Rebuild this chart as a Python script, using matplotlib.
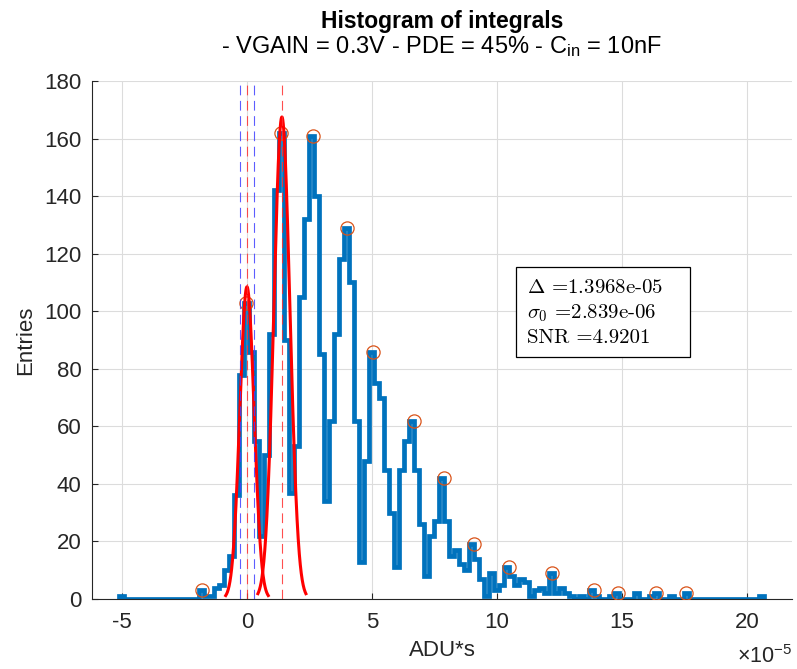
import numpy as np
import matplotlib
matplotlib.use("Agg")
import matplotlib.pyplot as plt
from matplotlib.patches import Rectangle
from matplotlib.ticker import FuncFormatter

# ---------------- data (x in units of 1e-5 ADU*s) ----------------
SCALE = 1e-5
first_edge = -5.1
bin_width = 0.2
counts = [
    1,
    0, 0, 0, 0, 0, 0, 0, 0, 0, 0, 0, 0, 0, 0, 0,
    3, 1, 1, 4, 5, 10, 15, 36, 78, 103, 86, 55, 22, 50, 92,
    142, 162, 90, 37, 53, 105, 132, 161, 140, 85, 34,
    62, 92, 118, 129, 110, 62, 13, 48, 86, 75, 70, 45, 30, 11,
    45, 55, 62, 45, 26, 8, 22, 27, 42, 27, 15, 17, 12, 10,
    19, 14, 7, 1, 9, 3, 5, 11, 8, 5, 7, 6, 1, 3, 4, 2,
    9, 2, 4, 2, 1, 0, 1, 0, 3, 1, 0, 0, 1, 2,
    0, 0, 0, 2, 0, 0, 1, 2, 0, 0, 1, 0, 0, 2,
    0, 0, 0, 0, 0, 0, 0, 0, 0, 0, 0, 0, 0, 0,
    1,
]
peak_x = [-1.78, -0.05, 1.35, 2.65, 4.0, 5.05, 6.67, 7.87, 9.07, 10.47,
          12.19, 13.87, 14.83, 16.38, 17.55]
peak_y = [3, 103, 162, 161, 129, 86, 62, 42, 19, 11, 9, 3, 2, 2, 2]

# fitted gaussians (center, sigma, amplitude), x in 1e-5 units
delta_val = 1.3968e-05
sigma0_val = 2.839e-06
snr_val = 4.9201
fit_mu = [0.0, 1.3968]
fit_sigma = [0.2839, 0.32]
fit_amp = [108.5, 167.5]

xticks = [-5, 0, 5, 10, 15, 20]
yticks = [0, 20, 40, 60, 80, 100, 120, 140, 160, 180]

# ---------------- style ----------------
plt.rcParams.update({
    "font.family": ["Liberation Sans", "DejaVu Sans"],
    "mathtext.fontset": "custom",
    "mathtext.rm": "Liberation Sans",
    "mathtext.it": "Liberation Sans:italic",
    "mathtext.bf": "Liberation Sans:bold",
    "axes.unicode_minus": False,
    "lines.scale_dashes": False,
})
AXC = "#262626"

fig = plt.figure(figsize=(7.97, 6.69), dpi=100)
ax = fig.add_axes([0.1154, 0.1046, 0.8783, 0.7743])

edges = (first_edge + bin_width * np.arange(len(counts) + 1)) * SCALE
ax.stairs(counts, edges, color="#0072BD", linewidth=3.4, baseline=0, zorder=2)

ax.plot(np.array(peak_x) * SCALE, peak_y, "o", mfc="none", mec="#D95319",
        ms=9.5, mew=0.9, zorder=3)

for mu, sg, amp in zip(fit_mu, fit_sigma, fit_amp):
    xx = np.linspace(mu - 3 * sg, mu + 3 * sg, 300)
    ax.plot(xx * SCALE, amp * np.exp(-0.5 * ((xx - mu) / sg) ** 2),
            color="#FF0000", lw=2.2, zorder=4)

s0 = sigma0_val
for xv, col in [(-s0, "#4040FF"), (0.0, "#FF3030"), (s0, "#4040FF"),
                (delta_val, "#FF3030")]:
    ax.axvline(xv, color=col, lw=0.8, dashes=(7, 4), alpha=0.85, zorder=5)

ax.set_xlim(-6.2 * SCALE, 21.8 * SCALE)
ax.set_ylim(0, 180)
ax.set_xticks(np.array(xticks) * SCALE)
ax.set_yticks(yticks)
ax.xaxis.set_major_formatter(FuncFormatter(lambda v, p: f"{v / SCALE:g}"))
ax.text(1.0, -0.088, r"$\times\mathregular{10^{-5}}$", transform=ax.transAxes,
        ha="right", va="top", fontsize=15.5, color=AXC)

ax.grid(True, color="#dcdcdc", lw=0.8)
ax.set_axisbelow(True)
for s in ["top", "right"]:
    ax.spines[s].set_visible(False)
for s in ["left", "bottom"]:
    ax.spines[s].set_color(AXC)
    ax.spines[s].set_linewidth(0.8)
ax.tick_params(axis="both", direction="in", length=4.5, width=0.8,
               colors=AXC, labelsize=16)
ax.tick_params(axis="x", pad=9.5)
ax.tick_params(axis="y", pad=7.5)

ax.set_xlabel("ADU*s", fontsize=16, color=AXC, labelpad=5)
ax.set_ylabel("Entries", fontsize=16, color=AXC, labelpad=6)

fig.text(442 / 797, 1 - 28 / 669, "Histogram of integrals", ha="center",
         va="baseline", fontsize=16.5, fontweight="bold", color="black")
fig.text(441 / 797, 1 - 53 / 669,
         r"- VGAIN = 0.3V - PDE = 45% - C$_{\mathrm{in}}$ = 10nF",
         ha="center", va="baseline", fontsize=17, color="black")

# annotation box
ax.add_patch(Rectangle((0.6057, 0.467), 0.2486, 0.1737, transform=ax.transAxes,
                       fc="white", ec="black", lw=0.9, zorder=6))
lines = [r"$\Delta$ =" + f"{delta_val:.4e}",
         r"$\sigma_0$ =" + f"{sigma0_val:.3e}",
         f"SNR ={snr_val:.4f}"]
for k, t in enumerate(lines):
    ax.text(0.621, 0.600 - 0.0483 * k, t, transform=ax.transAxes,
            ha="left", va="center", fontsize=15, family="cmr10",
            math_fontfamily="cm", color="black", zorder=7)

fig.savefig("out.png", dpi=100)
